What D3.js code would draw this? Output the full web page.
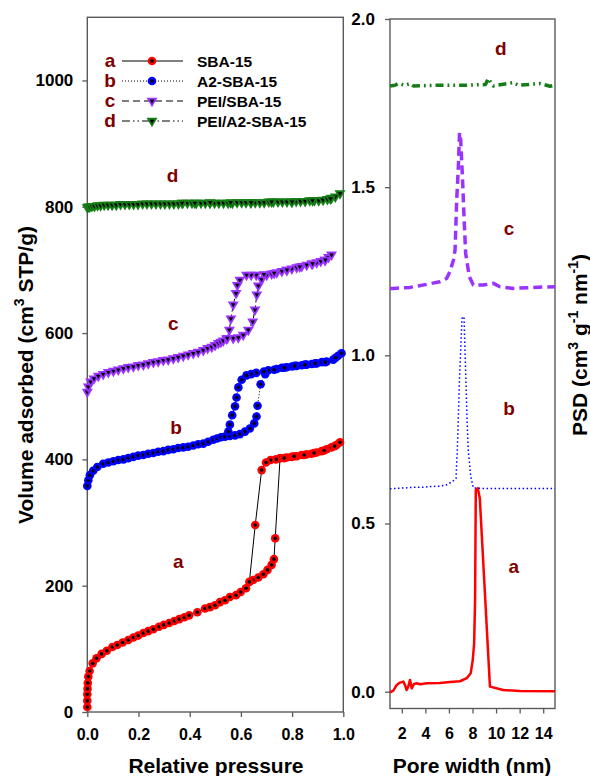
<!DOCTYPE html>
<html>
<head>
<meta charset="utf-8">
<script src="https://cdn.jsdelivr.net/npm/d3@7"></script>
<style>
  html, body { margin: 0; padding: 0; background: #fff; }
  svg { display: block; font-family: "Liberation Sans", Arial, sans-serif; font-weight: bold; }
</style>
</head>
<body>
<svg id="chart" width="590" height="776"></svg>
<script>
// ---- N2 isotherms: [relative pressure, volume adsorbed (cm3 STP/g)] ----
const sbaAds = [[0,8],[0,18],[0,28],[0.001,37],[0.002,46],[0.004,56],[0.009,65],[0.021,77],[0.036,85],[0.056,92],
  [0.076,97],[0.098,103],[0.117,106],[0.138,110],[0.160,114],[0.180,118],[0.199,121],[0.219,125],[0.238,128],
  [0.258,131],[0.280,135],[0.299,138],[0.320,141],[0.340,144],[0.359,147],[0.379,150],[0.398,153],[0.430,158],
  [0.460,164],[0.479,166],[0.499,169],[0.518,174],[0.538,177],[0.557,182],[0.581,185],[0.599,190],[0.620,196],
  [0.648,209],[0.668,213],[0.688,218],[0.704,225],[0.720,233],[0.729,242],[0.734,275],[0.753,402],[0.779,403],
  [0.798,404],[0.818,405],[0.837,407],[0.857,408],[0.876,409],[0.896,411],[0.915,413],[0.935,416],[0.954,419],
  [0.974,423],[0.987,427]];
const sbaDes = [[0.966,421],[0.925,414],[0.886,410],[0.847,407],[0.808,405],[0.769,402],[0.737,400],[0.716,399],
  [0.698,395],[0.681,383],[0.656,296],[0.633,206]];

const a2Ads = [[0,358],[0.004,367],[0.010,375],[0.023,382],[0.039,388],[0.062,393],[0.082,395],[0.102,397],
  [0.121,399],[0.141,400],[0.160,402],[0.180,404],[0.199,406],[0.219,407],[0.238,409],[0.258,410],[0.277,412],
  [0.297,413],[0.316,415],[0.336,416],[0.355,418],[0.375,419],[0.394,420],[0.414,422],[0.433,424],[0.453,425],
  [0.472,428],[0.492,431],[0.507,433],[0.522,435],[0.538,436],[0.557,437],[0.577,438],[0.596,440],[0.616,444],
  [0.635,449],[0.652,457],[0.661,468],[0.665,485],[0.677,519],[0.695,535],[0.707,541],[0.740,543],[0.760,545],
  [0.779,546],[0.799,547],[0.818,548],[0.838,549],[0.857,550],[0.877,551],[0.896,552],[0.916,554],[0.935,555],
  [0.961,558],[0.980,564],[0.993,568]];
const a2Des = [[0.970,561],[0.930,554],[0.890,552],[0.850,550],[0.810,548],[0.770,545],[0.730,542],[0.690,539],
  [0.660,537],[0.640,535],[0.622,533],[0.603,526],[0.590,514],[0.583,498],[0.577,484],[0.566,470],[0.557,455],
  [0.551,444]];

const peiAds = [[0,507],[0.004,515],[0.013,523],[0.026,528],[0.043,532],[0.062,535],[0.082,538],[0.102,540],
  [0.121,542],[0.141,544],[0.160,546],[0.180,547],[0.199,549],[0.219,550],[0.238,552],[0.258,554],[0.277,555],
  [0.297,557],[0.316,558],[0.336,560],[0.355,562],[0.375,564],[0.394,566],[0.414,568],[0.433,570],[0.453,573],
  [0.470,576],[0.486,578],[0.499,581],[0.512,584],[0.522,586],[0.531,588],[0.544,591],[0.570,592],[0.590,593],
  [0.609,597],[0.629,605],[0.646,618],[0.655,637],[0.662,661],[0.668,675],[0.681,685],[0.701,692],[0.720,694],
  [0.740,696],[0.760,698],[0.779,700],[0.799,702],[0.818,704],[0.838,706],[0.857,708],[0.877,710],[0.896,712],
  [0.912,714],[0.928,716],[0.942,720],[0.954,724]];
const peiDes = [[0.930,716],[0.880,710],[0.830,705],[0.780,700],[0.730,695],[0.690,693],[0.660,692],[0.640,692],
  [0.622,692],[0.596,684],[0.586,676],[0.581,663],[0.570,645],[0.561,623],[0.555,605],[0.547,592]];

const peiA2Ads = [[0,799],[0.004,800],[0.010,800],[0.018,801],[0.028,801],[0.040,802],[0.052,802],[0.066,803],
  [0.081,803],[0.097,803],[0.113,803],[0.130,804],[0.147,804],[0.164,804],[0.181,804],[0.198,804],[0.216,805],
  [0.233,805],[0.251,805],[0.268,805],[0.286,805],[0.303,805],[0.321,805],[0.338,805],[0.356,805],[0.373,806],
  [0.391,806],[0.409,806],[0.426,806],[0.444,806],[0.461,806],[0.479,806],[0.497,806],[0.514,806],[0.532,806],
  [0.550,806],[0.567,806],[0.585,807],[0.603,807],[0.620,807],[0.638,807],[0.656,807],[0.674,807],[0.691,807],
  [0.709,808],[0.727,808],[0.745,808],[0.762,808],[0.780,808],[0.798,808],[0.816,809],[0.833,809],[0.851,809],
  [0.869,810],[0.887,810],[0.904,810],[0.921,811],[0.938,812],[0.954,814],[0.969,816],[0.987,821]];
const peiA2Des = [[0.950,813],[0.880,810],[0.800,808],[0.720,808],[0.640,807],[0.560,807],[0.480,807],
  [0.420,806],[0.370,806]];

// ---- pore size distributions: [pore width (nm), PSD] ----
const sbaPsd = [[1.0,-0.002],[1.28,0.003],[1.57,0.020],[1.85,0.027],[2.13,0.030],[2.27,0.020],[2.41,0.005],
  [2.55,0.015],[2.70,0.035],[2.84,0.010],[3.04,0.023],[3.26,0.025],[3.55,0.022],[4.12,0.025],[5.24,0.026],
  [6.09,0.029],[6.94,0.031],[7.51,0.040],[7.85,0.055],[8.02,0.094],[8.14,0.144],[8.22,0.274],[8.28,0.600],
  [8.45,0.605],[8.62,0.575],[9.48,0.015],[10.61,0.005],[12.02,0.002],[15.0,0.001]];
const a2Psd = [[1.0,0.603],[1.7,0.605],[2.4,0.606],[3.1,0.608],[3.8,0.608],[4.5,0.610],[5.2,0.611],[5.8,0.615],
  [6.3,0.625],[6.6,0.634],[6.71,0.718],[6.80,0.817],[6.88,0.917],[7.00,1.016],[7.11,1.110],[7.28,1.115],
  [7.36,1.016],[7.45,0.917],[7.53,0.817],[7.64,0.718],[7.85,0.640],[8.07,0.606],[9.0,0.604],[10.5,0.604],
  [12.0,0.604],[13.5,0.604],[15.0,0.604]];
const peiPsd = [[1.0,1.199],[1.28,1.199],[2.70,1.202],[4.11,1.211],[5.24,1.219],[5.81,1.229],[6.09,1.249],
  [6.38,1.283],[6.52,1.313],[6.66,1.462],[6.80,1.561],[6.90,1.662],[7.00,1.640],[7.17,1.511],[7.28,1.412],
  [7.42,1.303],[7.51,1.283],[7.73,1.234],[8.07,1.209],[8.92,1.209],[9.77,1.214],[10.33,1.204],[11.46,1.199],
  [13.16,1.202],[15.0,1.204]];
const peiA2Psd = [[1.0,1.801],[1.42,1.803],[1.71,1.808],[2.27,1.803],[2.70,1.808],[2.98,1.801],[4.96,1.803],
  [7.36,1.803],[9.10,1.805],[9.34,1.823],[9.77,1.801],[11.46,1.811],[11.89,1.803],[13.73,1.808],[14.58,1.800],
  [15.0,1.803]];

// ---- labels and ticks ----
const seriesKeys = ["a", "b", "c", "d"];
const seriesNames = ["SBA-15", "A2-SBA-15", "PEI/SBA-15", "PEI/A2-SBA-15"];
const isoTicksX = [0, 0.2, 0.4, 0.6, 0.8, 1.0];
const isoTicksY = [0, 200, 400, 600, 800, 1000];
const psdTicksX = [2, 4, 6, 8, 10, 12, 14];
const psdTicksY = [0, 0.5, 1.0, 1.5, 2.0];

const colors = ["#ff0000", "#0000ff", "#9933ff", "#157d15"];
const letterColor = "#800000";
const frameColor = "#5a5a5a";

const svg = d3.select("#chart");

// scales
const isoX = d3.scaleLinear().domain([0, 1]).range([87.3, 343.3]);
const isoY = d3.scaleLinear().domain([0, 1100]).range([712, 17.3]);
const psdX = d3.scaleLinear().domain([1, 15]).range([390, 555]);
const psdY = d3.scaleLinear().domain([-0.05, 2.0]).range([708.5, 19]);

function styleAxis(g, fontSize) {
  g.select(".domain").remove();
  g.selectAll(".tick line").attr("stroke", frameColor).attr("stroke-width", 1.3);
  g.selectAll(".tick text").attr("fill", "#000").attr("font-size", fontSize)
    .attr("font-weight", "bold").attr("font-family", "Liberation Sans, Arial, sans-serif");
}

// ---- left panel: isotherms ----
svg.append("g").attr("transform", "translate(87.3,0)")
  .call(d3.axisLeft(isoY).tickValues(isoTicksY).tickFormat(d3.format("d")).tickSize(5).tickPadding(9))
  .call(g => styleAxis(g, 17));
svg.append("g").attr("transform", "translate(0,712)")
  .call(d3.axisBottom(isoX).tickValues(isoTicksX).tickFormat(d3.format(".1f")).tickSize(5).tickPadding(12))
  .call(g => styleAxis(g, 16));
svg.append("rect").attr("x", isoX(0)).attr("y", isoY(1100))
  .attr("width", isoX(1) - isoX(0)).attr("height", isoY(0) - isoY(1100))
  .attr("fill", "none").attr("stroke", frameColor).attr("stroke-width", 1.4);

const isoSets = [[sbaAds, sbaDes], [a2Ads, a2Des], [peiAds, peiDes], [peiA2Ads, peiA2Des]];
const isoDash = [null, "1,2", "5,3", "7,3,1.5,3,1.5,3"];
const legendDash = [null, "1,2", "7,4", "8,3,1.5,3,1.5,3"];
const isoLine = d3.line().x(d => isoX(d[0])).y(d => isoY(d[1]));

function drawMarker(g, i, x, y) {
  if (i < 2) {
    g.append("circle").attr("cx", x).attr("cy", y).attr("r", 4.3).attr("fill", colors[i]);
    g.append("circle").attr("cx", x).attr("cy", y).attr("r", 1.8).attr("fill", "#000");
  } else {
    g.append("path").attr("d", d3.symbol(d3.symbolTriangle, 52)())
      .attr("transform", `translate(${x},${y}) rotate(180)`).attr("fill", colors[i]);
    g.append("path").attr("d", d3.symbol(d3.symbolTriangle, 9)())
      .attr("transform", `translate(${x},${y}) rotate(180)`).attr("fill", "#000");
  }
}

// adsorption branch followed by desorption branch, joined by a thin black line
isoSets.forEach(([ads, des], i) => {
  const g = svg.append("g");
  const all = ads.concat(des);
  g.append("path").attr("d", isoLine(all)).attr("fill", "none")
    .attr("stroke", "#000").attr("stroke-width", 1)
    .attr("stroke-dasharray", isoDash[i]);
  all.forEach(d => drawMarker(g, i, isoX(d[0]), isoY(d[1])));
});

// legend
const legend = svg.append("g");
seriesKeys.forEach((k, i) => {
  const y = 61 + i * 20;
  legend.append("text").attr("x", 110).attr("y", y + 6).attr("text-anchor", "middle")
    .attr("font-size", 19).attr("fill", letterColor).text(k);
  legend.append("line").attr("x1", 122).attr("x2", 183).attr("y1", y).attr("y2", y)
    .attr("stroke", "#000").attr("stroke-width", 1).attr("stroke-dasharray", legendDash[i]);
  drawMarker(legend, i, 152, y);
  legend.append("text").attr("x", 197).attr("y", y + 6).attr("font-size", 15.5)
    .attr("fill", "#000").text(seriesNames[i]);
});

// curve letters, left panel
const isoLetterPos = [[0.355, 237], [0.347, 449], [0.336, 614], [0.333, 849]];
isoLetterPos.forEach((p, i) => {
  svg.append("text").attr("x", isoX(p[0])).attr("y", isoY(p[1]) + 6).attr("text-anchor", "middle")
    .attr("font-size", 19).attr("fill", letterColor).text(seriesKeys[i]);
});

// ---- right panel: pore size distributions ----
svg.append("g").attr("transform", "translate(390,0)")
  .call(d3.axisLeft(psdY).tickValues(psdTicksY).tickFormat(d3.format(".1f")).tickSize(5).tickPadding(10))
  .call(g => styleAxis(g, 17));
svg.append("g").attr("transform", "translate(0,708.5)")
  .call(d3.axisBottom(psdX).tickValues(psdTicksX).tickFormat(d3.format("d")).tickSize(5).tickPadding(14))
  .call(g => styleAxis(g, 16));
svg.append("rect").attr("x", psdX(1)).attr("y", psdY(2.0))
  .attr("width", psdX(15) - psdX(1)).attr("height", psdY(-0.05) - psdY(2.0))
  .attr("fill", "none").attr("stroke", frameColor).attr("stroke-width", 1.4);

const psdLine = d3.line().x(d => psdX(d[0])).y(d => psdY(d[1]));
const psdSets = [sbaPsd, a2Psd, peiPsd, peiA2Psd];
const psdWidth = [2.5, 1.5, 3.5, 3.5];
const psdDash = [null, "1.5,2.5", "9,5", "8,4,1.8,4,1.8,4"];
psdSets.forEach((data, i) => {
  svg.append("path").attr("d", psdLine(data)).attr("fill", "none")
    .attr("stroke", colors[i]).attr("stroke-width", psdWidth[i])
    .attr("stroke-dasharray", psdDash[i]).attr("stroke-linejoin", "round");
});

const psdLetterPos = [[11.5, 0.37], [11.1, 0.84], [11.1, 1.375], [10.4, 1.91]];
psdLetterPos.forEach((p, i) => {
  svg.append("text").attr("x", psdX(p[0])).attr("y", psdY(p[1]) + 6).attr("text-anchor", "middle")
    .attr("font-size", 19).attr("fill", letterColor).text(seriesKeys[i]);
});

// ---- axis titles ----
svg.append("text").attr("x", 216).attr("y", 773).attr("text-anchor", "middle")
  .attr("font-size", 21).text("Relative pressure");
svg.append("text").attr("x", 472).attr("y", 773).attr("text-anchor", "middle")
  .attr("font-size", 21).text("Pore width (nm)");

const yTitle = svg.append("text").attr("transform", "translate(33,375) rotate(-90)")
  .attr("text-anchor", "middle").attr("font-size", 21);
yTitle.append("tspan").text("Volume adsorbed (cm");
yTitle.append("tspan").attr("font-size", 14).attr("dy", -9).text("3");
yTitle.append("tspan").attr("dy", 9).text(" STP/g)");

const psdTitle = svg.append("text").attr("transform", "translate(587,345) rotate(-90)")
  .attr("text-anchor", "middle").attr("font-size", 21);
psdTitle.append("tspan").text("PSD (cm");
psdTitle.append("tspan").attr("font-size", 14).attr("dy", -9).text("3");
psdTitle.append("tspan").attr("dy", 9).text(" g");
psdTitle.append("tspan").attr("font-size", 14).attr("dy", -9).text("-1");
psdTitle.append("tspan").attr("dy", 9).text(" nm");
psdTitle.append("tspan").attr("font-size", 14).attr("dy", -9).text("-1");
psdTitle.append("tspan").attr("dy", 9).text(")");
</script>
</body>
</html>
